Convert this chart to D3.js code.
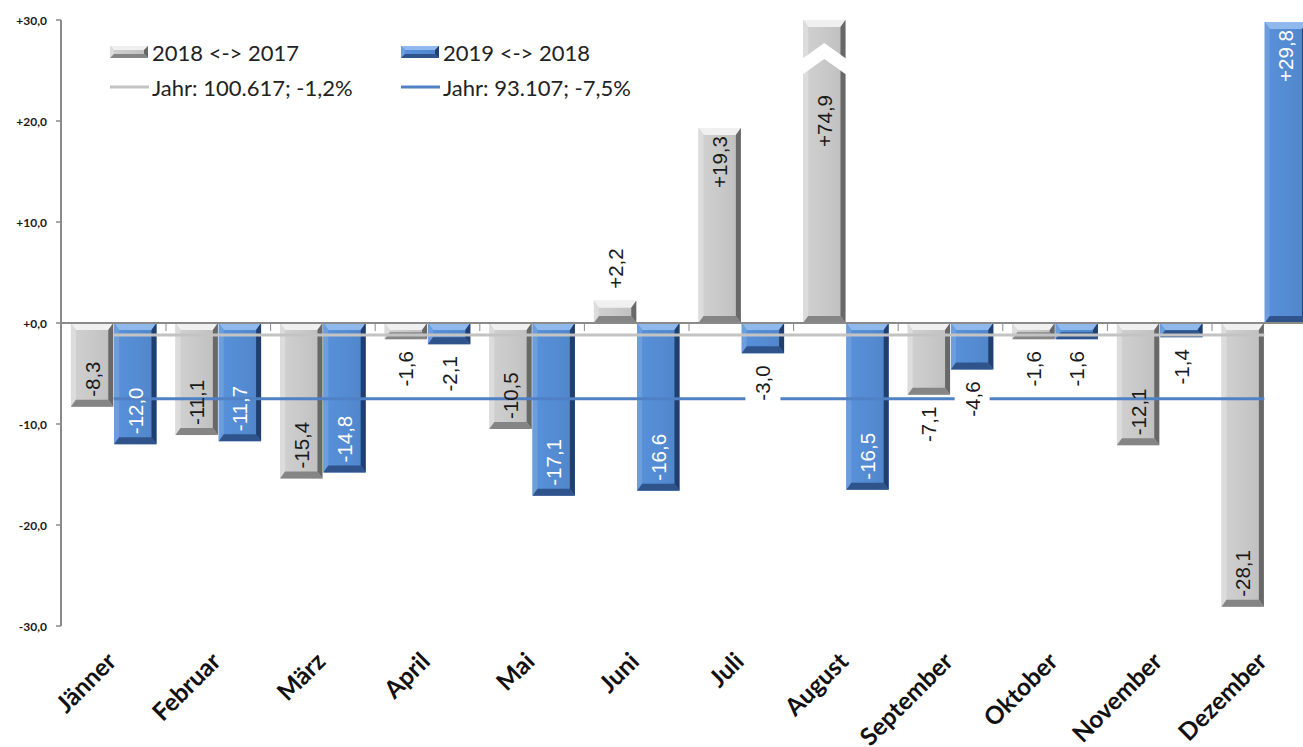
<!DOCTYPE html>
<html><head><meta charset="utf-8">
<script src="https://cdn.jsdelivr.net/npm/d3@7"></script>
<style>body{margin:0;background:#fff} svg{display:block}</style>
</head><body><svg id="c" width="1303" height="747"></svg>
<script>
const months = ["Jänner","Februar","März","April","Mai","Juni","Juli","August","September","Oktober","November","Dezember"];
const seriesNames = ["2018 <-> 2017","2019 <-> 2018"];
const values2018 = [-8.3,-11.1,-15.4,-1.6,-10.5,2.2,19.3,74.9,-7.1,-1.6,-12.1,-28.1];
const values2019 = [-12.0,-11.7,-14.8,-2.1,-17.1,-16.6,-3.0,-16.5,-4.6,-1.6,-1.4,29.8];
const yearLabels = ["Jahr: 100.617; -1,2%","Jahr: 93.107; -7,5%"];
const yearAvg = [-1.2,-7.5];
const yTicks = [-30,-20,-10,0,10,20,30];

const svg = d3.select("#c");
const W = 1303, H = 747;
const y = d3.scaleLinear().domain([-30,30]).range([626,20]);
const x0 = d3.scaleBand().domain(months).range([61.4,1316.6]).padding(0);
const x1 = d3.scaleBand().domain([0,1]).range([0,x0.bandwidth()]).paddingInner(0.02).paddingOuter(0.22);
const loc = d3.formatLocale({decimal:",", thousands:".", grouping:[3], currency:["","€"], minus:"-"});
const f1 = loc.format(".1f");
const fmt = v => (v>=0?"+":"") + f1(v);

const pals = [
  {base:"#c8c8c8", top:"#f0f0f0", left:"#dcdcdc", right:"#686868", bottom:"#858585", label:"#1a1a1a", lineCol:"#c3c3c3"},
  {base:"#548bd2", top:"#8fb8ec", left:"#6c9ddd", right:"#203f6e", bottom:"#2f548c", label:"#ffffff", lineCol:"#4f81c4"}
];

const defs = svg.append("defs");
pals.forEach((p,i)=>{
  const g = defs.append("linearGradient").attr("id","gb"+i).attr("x1","0").attr("x2","1").attr("y1","0").attr("y2","0");
  g.append("stop").attr("offset","0").attr("stop-color", d3.color(p.base).brighter(0.12));
  g.append("stop").attr("offset","0.55").attr("stop-color", p.base);
  g.append("stop").attr("offset","1").attr("stop-color", d3.color(p.base).darker(0.15));
});
defs.append("clipPath").attr("id","plotclip").append("rect").attr("x",0).attr("y",y(30)).attr("width",W).attr("height",y(-30)-y(30));

function bevelBar(sel, x, yy, w, h, i, bv, bs){
  const p = pals[i];
  const b = Math.min(bv, h/2);
  const s = Math.min(bs, w/2);
  const g = sel.append("g");
  g.append("rect").attr("x",x).attr("y",yy).attr("width",w).attr("height",h).attr("fill","url(#gb"+i+")");
  const poly = (pts, c) => g.append("polygon").attr("points", pts.map(q=>q.join(",")).join(" ")).attr("fill", c);
  poly([[x,yy],[x+w,yy],[x+w-s,yy+b],[x+s,yy+b]], p.top);
  poly([[x,yy],[x+s,yy+b],[x+s,yy+h-b],[x,yy+h]], p.left);
  poly([[x+w,yy],[x+w-s,yy+b],[x+w-s,yy+h-b],[x+w,yy+h]], p.right);
  poly([[x,yy+h],[x+w,yy+h],[x+w-s,yy+h-b],[x+s,yy+h-b]], p.bottom);
  return g;
}

const series = [values2018, values2019];
const plot = svg.append("g").attr("clip-path","url(#plotclip)");
const y0 = y(0);
const clipTop = y(30);

// bars
series.forEach((vals, si) => {
  vals.forEach((v, mi) => {
    const m = months[mi];
    const bx = x0(m) + x1(si);
    const bw = x1.bandwidth();
    const vv = Math.max(-30, Math.min(30, v));
    const top = Math.min(y(vv), y0), bot = Math.max(y(vv), y0);
    bevelBar(plot, bx, top, bw, bot - top, si, 7, 5);
    if (v > 30) {
      const cx = bx + bw/2;
      plot.append("polyline")
        .attr("points", `${bx-4},${clipTop+49} ${cx},${clipTop+31} ${bx+bw+4},${clipTop+49}`)
        .attr("fill","none").attr("stroke","#fff").attr("stroke-width",13).attr("stroke-linejoin","miter");
    }
  });
});

// axes
svg.append("line").attr("x1",61).attr("x2",61).attr("y1",y(30)).attr("y2",y(-30)).attr("stroke","#8a8a8a").attr("stroke-width",2);
yTicks.forEach(t=>{
  svg.append("line").attr("x1",56).attr("x2",61).attr("y1",y(t)).attr("y2",y(t)).attr("stroke","#8a8a8a").attr("stroke-width",1.5);
  svg.append("text").attr("x",47).attr("y",y(t)).attr("text-anchor","end").attr("dominant-baseline","central")
    .attr("font-family","Lato, 'Liberation Sans', sans-serif").attr("font-weight","bold").attr("font-size",12).attr("fill","#1a1a1a")
    .text(fmt(t));
});
svg.append("line").attr("x1",61).attr("x2",W).attr("y1",y0).attr("y2",y0).attr("stroke","#8a8a8a").attr("stroke-width",2);
d3.range(1, months.length+1).forEach(k=>{
  const tx = x0.range()[0] + k*x0.step();
  svg.append("line").attr("x1",tx).attr("x2",tx).attr("y1",y0).attr("y2",y0+8).attr("stroke","#8a8a8a").attr("stroke-width",1);
});

// year lines
const lineGen = d3.line().x(m => x0(m) + x0.bandwidth()/2);
yearAvg.forEach((a, si)=>{
  svg.append("path").attr("d", lineGen.y(() => y(a))(months)).attr("fill","none")
    .attr("stroke", pals[si].lineCol).attr("stroke-width",3);
});

// labels
const labG = svg.append("g");
series.forEach((vals, si) => {
  vals.forEach((v, mi) => {
    const m = months[mi];
    const cx = x0(m) + x1(si) + x1.bandwidth()/2;
    const inside = Math.abs(v) >= 8;
    let P, anchor;
    if (v > 30) { P = clipTop + 75; anchor = "end"; }
    else if (v < 0 && inside) { P = y(v) - 10; anchor = "start"; }
    else if (v < 0) { P = y(v) + 12; anchor = "end"; }
    else if (inside) { P = y(v) + 8; anchor = "end"; }
    else { P = y(v) - 12; anchor = "start"; }
    const g = labG.append("g").attr("transform", `translate(${cx},${P}) rotate(-90)`);
    const t = g.append("text").attr("text-anchor", anchor).attr("dominant-baseline","central")
      .attr("font-family","'Liberation Sans', Arial, sans-serif").attr("font-size",20.5)
      .attr("fill", inside ? pals[si].label : "#1a1a1a").text(fmt(v));
    if (!inside) {
      const bb = t.node().getBBox();
      g.insert("rect","text").attr("x",bb.x-1).attr("y",bb.y-6).attr("width",bb.width+2).attr("height",bb.height+12).attr("fill","#fff");
    }
  });
});

// category labels
months.forEach(m=>{
  svg.append("text").attr("transform", `translate(${x0(m)+x0.bandwidth()/2+4},${663}) rotate(-45)`)
    .attr("text-anchor","end").attr("font-family","Lato, 'Liberation Sans', sans-serif").attr("font-weight","bold")
    .attr("font-size",24.5).attr("fill","#111").text(m);
});

// legend
const legX = [110, 401];
seriesNames.forEach((n, si)=>{
  const lx = legX[si];
  bevelBar(svg, lx, 46, 38, 12, si, 4, 4);
  svg.append("text").attr("x", lx+42).attr("y", 52).attr("dominant-baseline","central")
    .attr("font-family","Lato, 'Liberation Sans', sans-serif").attr("font-size",22).attr("fill","#222").text(n);
  svg.append("line").attr("x1",lx).attr("x2",lx+39).attr("y1",87).attr("y2",87).attr("stroke",pals[si].lineCol).attr("stroke-width",3);
  svg.append("text").attr("x", lx+42).attr("y", 87).attr("dominant-baseline","central")
    .attr("font-family","Lato, 'Liberation Sans', sans-serif").attr("font-size",22).attr("fill","#222").text(yearLabels[si]);
});
</script></body></html>
